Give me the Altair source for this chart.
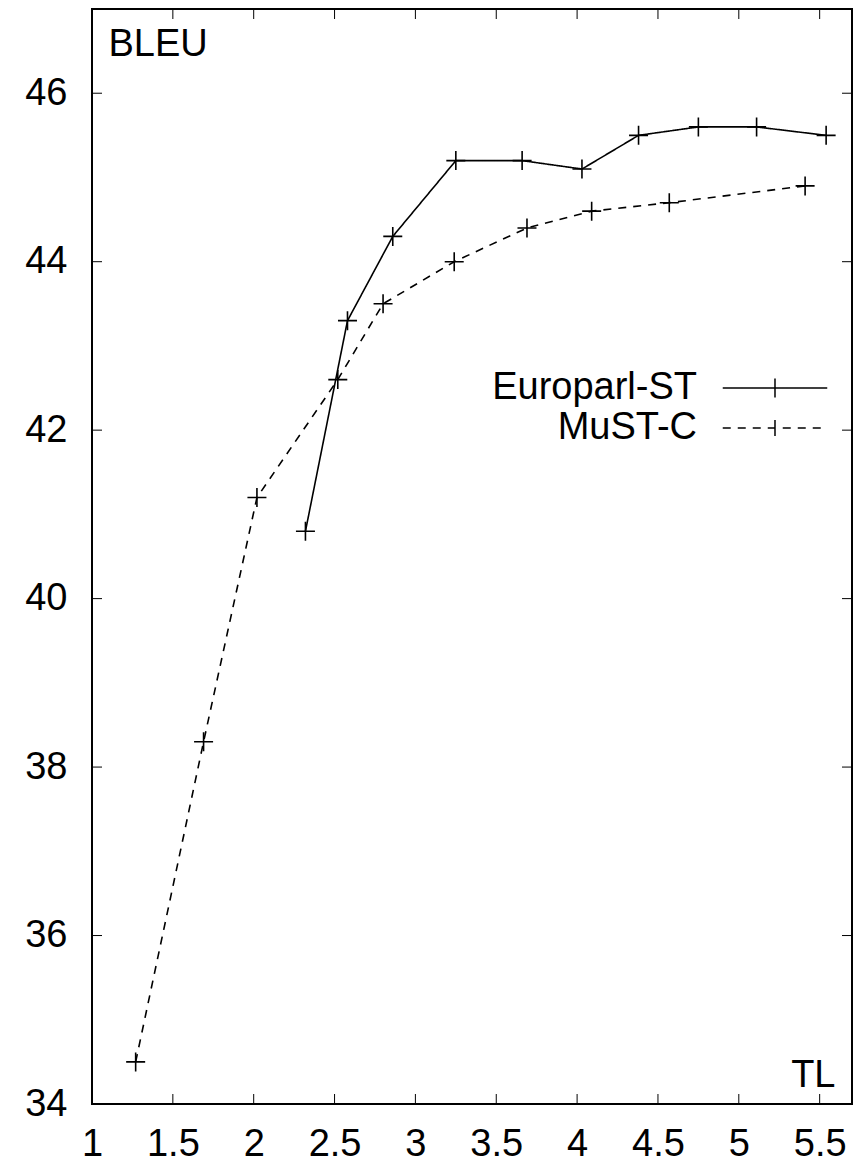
import altair as alt
import pandas as pd

# ---- data ----
europarl_tl = [2.32, 2.58, 2.86, 3.25, 3.66, 4.03, 4.38, 4.75, 5.11, 5.54]
europarl_bleu = [40.8, 43.3, 44.3, 45.2, 45.2, 45.1, 45.5, 45.6, 45.6, 45.5]
mustc_tl = [1.27, 1.69, 2.02, 2.52, 2.80, 3.24, 3.69, 4.09, 4.57, 5.41]
mustc_bleu = [34.5, 38.3, 41.2, 42.6, 43.5, 44.0, 44.4, 44.6, 44.7, 44.9]
series_names = ["Europarl-ST", "MuST-C"]
x_ticks = [1, 1.5, 2, 2.5, 3, 3.5, 4, 4.5, 5, 5.5]
y_ticks = [34, 36, 38, 40, 42, 44, 46]

W, H = 760, 1095
FONT = "Liberation Sans"
FS = 38
TICK = 10
CROSS = "M-1,0L1,0M0,-1L0,1"
# legend sample drawn to the right of its anchor (units of sqrt(size)/2)
LEG_SYMBOL = "M4.71,0L15.71,0M10.21,0L10.21,-1M10.21,0L10.21,1"

df = pd.DataFrame({
    "TL": europarl_tl + mustc_tl,
    "BLEU": europarl_bleu + mustc_bleu,
    "series": [series_names[0]] * len(europarl_tl) + [series_names[1]] * len(mustc_tl),
    "order": list(range(len(europarl_tl))) + list(range(len(mustc_tl))),
})
xt = pd.DataFrame({"v": x_ticks})
yt = pd.DataFrame({"v": y_ticks})

xs = alt.Scale(domain=[1, 5.7], nice=False, zero=False)
ys = alt.Scale(domain=[34, 47], nice=False, zero=False)

x_axis = alt.Axis(
    values=x_ticks, format="~g", ticks=False, domain=False, grid=False,
    labelFont=FONT, labelFontSize=FS, labelColor="black", labelPadding=21,
    labelFlush=False, labelOverlap=False,
    title="TL", titleFont=FONT, titleFontSize=FS, titleFontWeight="normal",
    titleColor="black", titleX=743, titleY=-18, titleAlign="right",
    titleBaseline="alphabetic", titleAngle=0,
)
y_axis = alt.Axis(
    values=y_ticks, format="d", ticks=False, domain=False, grid=False,
    labelFont=FONT, labelFontSize=FS, labelColor="black", labelPadding=25,
    labelFlush=False, labelOverlap=False, labelBaseline="middle",
    title="BLEU", titleFont=FONT, titleFontSize=FS, titleFontWeight="normal",
    titleColor="black", titleX=16, titleY=46, titleAlign="left",
    titleBaseline="alphabetic", titleAngle=0,
)

legend = alt.Legend(
    title=None, orient="none", legendX=567, legendY=360, direction="vertical",
    symbolType=LEG_SYMBOL, symbolSize=361, symbolStrokeColor="black",
    symbolStrokeWidth=1.5, symbolFillColor="transparent", symbolOffset=0,
    labelAlign="right", labelOffset=0, labelFont=FONT, labelFontSize=FS,
    labelColor="black", labelLimit=400, rowPadding=2, padding=0,
)

lines = alt.Chart(df).mark_line(color="black", strokeWidth=1.6).encode(
    x=alt.X("TL:Q", scale=xs, axis=x_axis),
    y=alt.Y("BLEU:Q", scale=ys, axis=y_axis),
    order="order:O",
    strokeDash=alt.StrokeDash(
        "series:N",
        scale=alt.Scale(domain=series_names, range=[[1, 0], [8, 7]]),
        legend=legend,
    ),
)

points = alt.Chart(df).mark_point(
    shape=CROSS, size=361, filled=False, color="black", strokeWidth=1.6, opacity=1
).encode(
    x=alt.X("TL:Q", scale=xs, axis=x_axis),
    y=alt.Y("BLEU:Q", scale=ys, axis=y_axis),
    detail="series:N",
)

bottom_ticks = alt.Chart(xt).mark_rule(color="black", strokeWidth=1).encode(
    x=alt.X("v:Q", scale=xs, axis=x_axis), y=alt.value(H), y2=alt.value(H - TICK)
)
top_ticks = alt.Chart(xt).mark_rule(color="black", strokeWidth=1).encode(
    x=alt.X("v:Q", scale=xs, axis=x_axis), y=alt.value(0), y2=alt.value(TICK)
)
left_ticks = alt.Chart(yt).mark_rule(color="black", strokeWidth=1).encode(
    y=alt.Y("v:Q", scale=ys, axis=y_axis), x=alt.value(0), x2=alt.value(TICK)
)
right_ticks = alt.Chart(yt).mark_rule(color="black", strokeWidth=1).encode(
    y=alt.Y("v:Q", scale=ys, axis=y_axis), x=alt.value(W - TICK), x2=alt.value(W)
)

chart = alt.layer(
    lines, points, bottom_ticks, top_ticks, left_ticks, right_ticks
).properties(
    width=W, height=H,
    autosize=alt.AutoSizeParams(type="none"),
    padding={"left": 84, "top": 1, "right": 2, "bottom": 60},
    background="white",
).configure_view(
    stroke="black", strokeWidth=2
)

chart.save("out.html", embed_options={"renderer": "svg", "actions": False})
